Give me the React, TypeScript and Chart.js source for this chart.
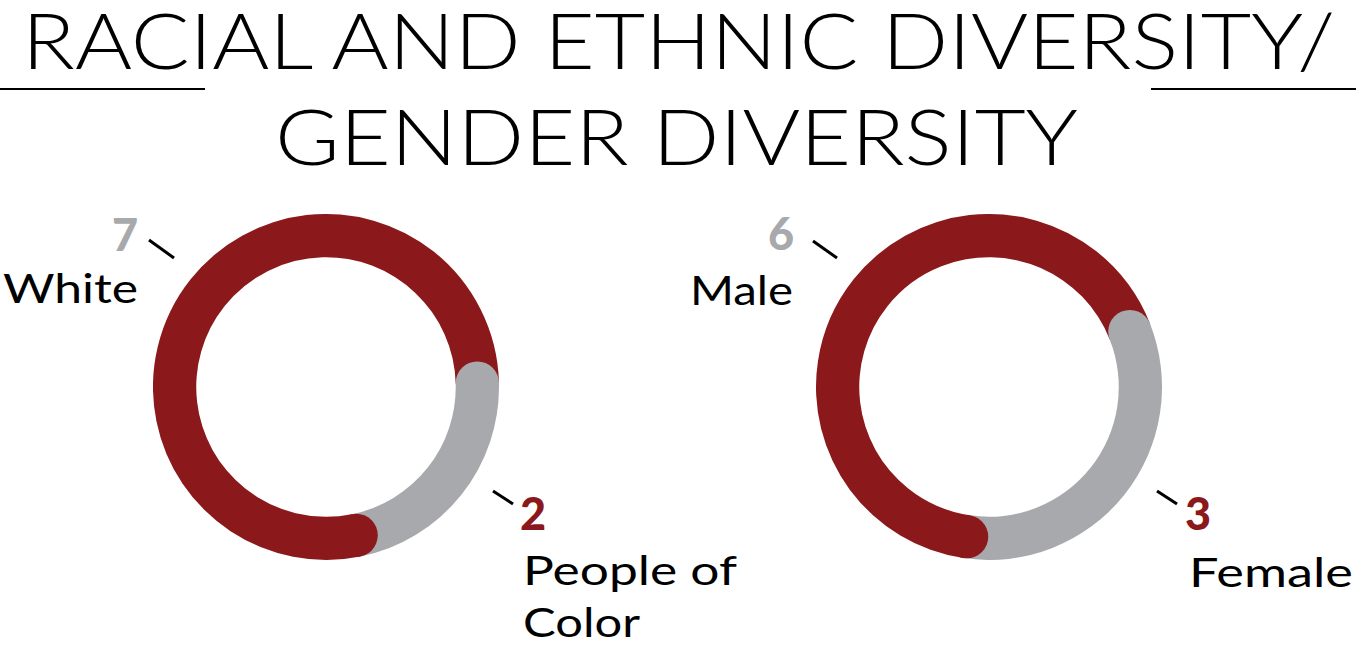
import React, { useEffect, useRef } from "react";
import { Chart, registerables } from "chart.js";

Chart.register(...registerables);

// ---- data ----
const titleLines = ["RACIAL AND ETHNIC DIVERSITY/", "GENDER DIVERSITY"];
const raceLabels = ["White", "People of Color"];
const raceValues = [7, 2];
const genderLabels = ["Male", "Female"];
const genderValues = [6, 3];

const RED = "#8b191c";
const GRAY = "#a7a9ac";
const FONT = "Lato, 'Open Sans', 'DejaVu Sans', sans-serif";

// rounded caps: each segment gets a round cap at its start, drawn over the previous segment's end
const roundCapPlugin = {
  id: "roundCaps",
  afterDatasetsDraw(chart: any) {
    const meta = chart.getDatasetMeta(0);
    const ds = chart.data.datasets[0];
    const ctx = chart.ctx;
    ctx.save();
    meta.data.forEach((arc: any, i: number) => {
      const { x, y, startAngle, innerRadius, outerRadius } = arc.getProps(
        ["x", "y", "startAngle", "innerRadius", "outerRadius"],
        true
      );
      const mid = (innerRadius + outerRadius) / 2;
      const r = (outerRadius - innerRadius) / 2;
      ctx.beginPath();
      ctx.arc(x + mid * Math.cos(startAngle), y + mid * Math.sin(startAngle), r, 0, Math.PI * 2);
      ctx.fillStyle = ds.backgroundColor[i];
      ctx.fill();
    });
    ctx.restore();
  },
};

function Donut({ labels, values, rotation, left, top, size }: any) {
  const ref = useRef<HTMLCanvasElement | null>(null);
  useEffect(() => {
    if (!ref.current) return;
    const chart = new Chart(ref.current, {
      type: "doughnut",
      data: {
        labels,
        datasets: [
          {
            data: values,
            backgroundColor: [RED, GRAY],
            borderWidth: 0,
            hoverOffset: 0,
          },
        ],
      },
      options: {
        responsive: false,
        animation: false,
        events: [],
        cutout: "75%",
        rotation,
        layout: { padding: 0 },
        plugins: { legend: { display: false }, tooltip: { enabled: false }, title: { display: false } },
      },
      plugins: [roundCapPlugin],
    } as any);
    return () => chart.destroy();
  }, []);
  return (
    <canvas
      ref={ref}
      width={size}
      height={size}
      style={{ position: "absolute", left, top, width: size, height: size, display: "block" }}
    />
  );
}

export default function App() {
  const labelStyle = { fontFamily: FONT, fontWeight: 400 } as any;
  const numStyle = { fontFamily: FONT, fontWeight: 900 } as any;
  return (
    <div
      style={{
        position: "absolute",
        left: 0,
        top: 0,
        width: 1356,
        height: 653,
        background: "#ffffff",
        overflow: "hidden",
      }}
    >
      <svg
        width={1356}
        height={653}
        style={{ position: "absolute", left: 0, top: 0, pointerEvents: "none" }}
      >
        <line x1={0} y1={89} x2={205} y2={89} stroke="#000" strokeWidth={2} />
        <line x1={1151} y1={89} x2={1356} y2={89} stroke="#000" strokeWidth={2} />
        <text
          x={22}
          y={69}
          fontSize={76}
          textLength={1313}
          lengthAdjust="spacingAndGlyphs"
          style={{ fontFamily: FONT, fontWeight: 300 }}
          fill="#000"
        >
          {titleLines[0]}
        </text>
        <text
          x={275}
          y={165}
          fontSize={76}
          textLength={803}
          lengthAdjust="spacingAndGlyphs"
          style={{ fontFamily: FONT, fontWeight: 300 }}
          fill="#000"
        >
          {titleLines[1]}
        </text>

        {/* race chart labels */}
        <text x={112} y={251} fontSize={45} style={numStyle} fill={GRAY}>
          {String(raceValues[0])}
        </text>
        <line x1={149} y1={240} x2={174} y2={258} stroke="#000" strokeWidth={3} />
        <text x={3} y={303} fontSize={40} textLength={135} lengthAdjust="spacingAndGlyphs" style={labelStyle} fill="#000">
          {raceLabels[0]}
        </text>
        <line x1={493} y1={491} x2={513} y2={504} stroke="#000" strokeWidth={3} />
        <text x={520} y={530} fontSize={45} style={numStyle} fill={RED}>
          {String(raceValues[1])}
        </text>
        <text x={523} y={585} fontSize={40} textLength={214} lengthAdjust="spacingAndGlyphs" style={labelStyle} fill="#000">
          {raceLabels[1].split(" ").slice(0, 2).join(" ")}
        </text>
        <text x={523} y={637} fontSize={40} textLength={117} lengthAdjust="spacingAndGlyphs" style={labelStyle} fill="#000">
          {raceLabels[1].split(" ").slice(2).join(" ")}
        </text>

        {/* gender chart labels */}
        <text x={768} y={250} fontSize={45} style={numStyle} fill={GRAY}>
          {String(genderValues[0])}
        </text>
        <line x1={813} y1={241} x2={837} y2={258} stroke="#000" strokeWidth={3} />
        <text x={690} y={305} fontSize={40} textLength={103} lengthAdjust="spacingAndGlyphs" style={labelStyle} fill="#000">
          {genderLabels[0]}
        </text>
        <line x1={1157} y1={491} x2={1177} y2={504} stroke="#000" strokeWidth={3} />
        <text x={1185} y={530} fontSize={45} style={numStyle} fill={RED}>
          {String(genderValues[1])}
        </text>
        <text x={1189} y={587} fontSize={40} textLength={164} lengthAdjust="spacingAndGlyphs" style={labelStyle} fill="#000">
          {genderLabels[1]}
        </text>
      </svg>

      <Donut labels={raceLabels} values={raceValues} rotation={168.5} left={152.5} top={213.5} size={346} />
      <Donut labels={genderLabels} values={genderValues} rotation={188.5} left={815.5} top={213.5} size={346} />
    </div>
  );
}
